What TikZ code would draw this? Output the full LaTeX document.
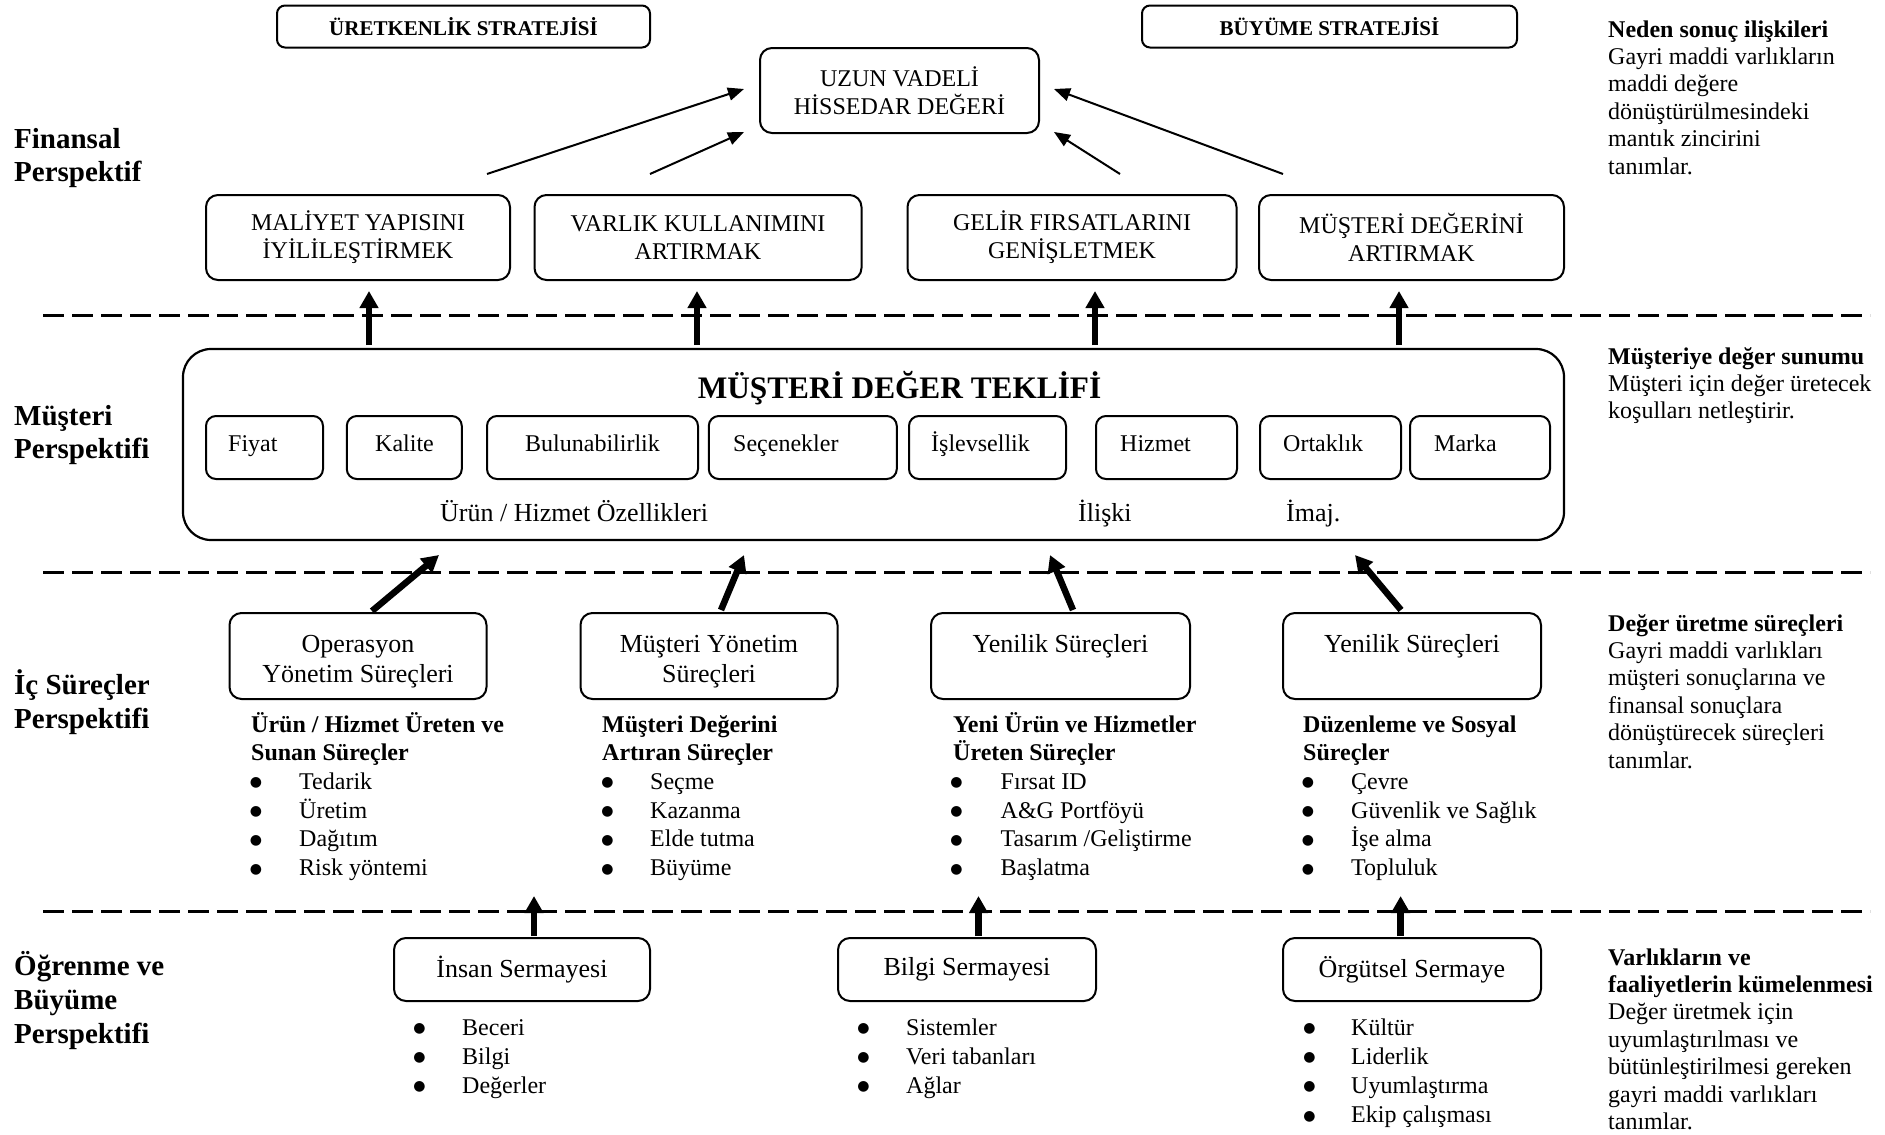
\documentclass[tikz,border=0pt]{standalone}
\usepackage{fontspec}
\setmainfont{Liberation Serif}
\newfontfamily\dotfont{DejaVu Sans}
\usetikzlibrary{arrows.meta,calc}

\newcommand\tstrat{\fontsize{21}{24}\selectfont}
\newcommand\tfour{\fontsize{24}{28}\selectfont}
\newcommand\tsix{\fontsize{26}{30}\selectfont}
\newcommand\tbig{\fontsize{29}{33}\selectfont}
\newcommand\ttitle{\fontsize{31.3}{35}\selectfont}
\newcommand\bigbullet{\raisebox{2.5pt}{\dotfont\fontsize{14}{14}\selectfont ●}}

\tikzset{
  rbox/.style={draw, line width=2pt, rounded corners=12pt, inner sep=0pt, align=center},
  stratbox/.style={rbox, rounded corners=8pt, font=\tstrat\bfseries},
  finbox/.style={rbox, font=\tfour},
  procbox/.style={rbox, minimum height=86pt},
  learnbox/.style={rbox, minimum height=63pt, font=\tsix},
  ibox/.style={rbox, rounded corners=10pt, minimum height=63pt},
  txt/.style={anchor=base west, inner sep=0pt, font=\tfour},
  btxt/.style={txt, font=\tfour\bfseries},
  ctxt/.style={anchor=base, inner sep=0pt, font=\tsix},
  dotnode/.style={anchor=base, inner sep=0pt},
  persp/.style={anchor=base west, inner sep=0pt, font=\tbig\bfseries},
  thinarrow/.style={line width=2pt, -{Triangle[length=16pt,width=13pt]}},
  bigarrow/.style={line width=6.5pt, -{Triangle[length=17pt,width=18pt]}},
  divider/.style={line width=3pt, dash pattern=on 21pt off 8pt}
}

% bulleted list: name, bullet x, text x, first baseline, line step, items
\newcommand\bulletlist[6]{%
  \foreach \t [count=\i from 0] in {#6} {%
    \node[dotnode] (#1d\i) at (#2, #4+#5*\i) {\bigbullet};
    \node[txt] (#1t\i) at (#3, #4+#5*\i) {\t};
  }%
}

\begin{document}
\begin{tikzpicture}[x=1pt,y=-1pt]
\useasboundingbox (0,0) rectangle (1885,1135);
\fill[white] (0,0) rectangle (1885,1135);

% ---------- perspective separators ----------
\draw[divider] (43,315) -- (1870,315);
\draw[divider] (43,572) -- (1870,572);
\draw[divider] (43,911) -- (1870,911);

% ---------- perspective names ----------
\node[persp] (pf1) at (14,148) {Finansal};
\node[persp] (pf2) at (14,181) {Perspektif};
\node[persp] (pm1) at (14,425) {Müşteri};
\node[persp] (pm2) at (14,458) {Perspektifi};
\node[persp] (pi1) at (14,694) {İç Süreçler};
\node[persp] (pi2) at (14,728) {Perspektifi};
\node[persp] (po1) at (14,975) {Öğrenme ve};
\node[persp] (po2) at (14,1009) {Büyüme};
\node[persp] (po3) at (14,1043) {Perspektifi};

% ---------- financial perspective ----------
\node[stratbox, minimum width=373pt, minimum height=42pt] (uret) at (463.5,26.5) {ÜRETKENLİK STRATEJİSİ};
\node[stratbox, minimum width=375pt, minimum height=42pt] (buyu) at (1329.5,26.5) {BÜYÜME STRATEJİSİ};

\node[finbox, minimum width=279pt, minimum height=85pt] (hisse) at (899.5,90.5) {UZUN VADELİ\\HİSSEDAR DEĞERİ};

\node[finbox, minimum width=304pt, minimum height=85pt] (fin1) at (358,237.5) {MALİYET YAPISINI\\İYİLİLEŞTİRMEK};
\node[finbox, minimum width=327pt, minimum height=85pt] (fin2) at (698,237.5) {VARLIK KULLANIMINI\\ARTIRMAK};
\node[finbox, minimum width=329pt, minimum height=85pt] (fin3) at (1072,237.5) {GELİR FIRSATLARINI\\GENİŞLETMEK};
\node[finbox, minimum width=305pt, minimum height=85pt] (fin4) at (1411.5,237.5) {MÜŞTERİ DEĞERİNİ\\ARTIRMAK};

\coordinate (h1s) at (487,174);  \coordinate (h1e) at (744,89);
\coordinate (h2s) at (650,174);  \coordinate (h2e) at (744,132);
\coordinate (h3s) at (1120,174); \coordinate (h3e) at (1054,132);
\coordinate (h4s) at (1283,174); \coordinate (h4e) at (1054,89);
\draw[thinarrow] (h1s) -- (h1e);
\draw[thinarrow] (h2s) -- (h2e);
\draw[thinarrow] (h3s) -- (h3e);
\draw[thinarrow] (h4s) -- (h4e);

% ---------- customer perspective ----------
\node[rbox, line width=2.2pt, rounded corners=28pt, minimum width=1381pt, minimum height=191pt] (cust) at (873.5,444.5) {};
\node[anchor=base, inner sep=0pt, font=\ttitle\bfseries] (custT) at (899.5,398) {MÜŞTERİ DEĞER TEKLİFİ};

\node[ibox, minimum width=117pt] (iFiyat) at (264.5,447.5) {};
\node[ibox, minimum width=115pt] (iKalite) at (404.3,447.5) {};
\node[ibox, minimum width=211pt] (iBulun) at (592.5,447.5) {};
\node[ibox, minimum width=188pt] (iSecen) at (802.8,447.5) {};
\node[ibox, minimum width=157pt] (iIslev) at (987.5,447.5) {};
\node[ibox, minimum width=141pt] (iHizm) at (1166.5,447.5) {};
\node[ibox, minimum width=141pt] (iOrtak) at (1330.5,447.5) {};
\node[ibox, minimum width=140pt] (iMarka) at (1480,447.5) {};

\node[txt] (tFiyat) at (228,451) {Fiyat};
\node[txt] (tKalite) at (375,451) {Kalite};
\node[txt] (tBulun) at (525,451) {Bulunabilirlik};
\node[txt] (tSecen) at (733,451) {Seçenekler};
\node[txt] (tIslev) at (931,451) {İşlevsellik};
\node[txt] (tHizm) at (1120,451) {Hizmet};
\node[txt] (tOrtak) at (1283,451) {Ortaklık};
\node[txt] (tMarka) at (1434,451) {Marka};

\node[txt, font=\tsix] (gUrun) at (440,521) {Ürün / Hizmet Özellikleri};
\node[txt, font=\tsix] (gIlis) at (1078,521) {İlişki};
\node[txt, font=\tsix] (gImaj) at (1286,521) {İmaj.};

\coordinate (u1s) at (369,345);  \coordinate (u1e) at (369,291);
\coordinate (u2s) at (697,345);  \coordinate (u2e) at (697,291);
\coordinate (u3s) at (1095,345); \coordinate (u3e) at (1095,291);
\coordinate (u4s) at (1399,345); \coordinate (u4e) at (1399,291);
\draw[bigarrow] (u1s) -- (u1e);
\draw[bigarrow] (u2s) -- (u2e);
\draw[bigarrow] (u3s) -- (u3e);
\draw[bigarrow] (u4s) -- (u4e);

% ---------- internal processes ----------
\node[procbox, minimum width=257pt] (proc1) at (358,656) {};
\node[procbox, minimum width=257pt] (proc2) at (709,656) {};
\node[procbox, minimum width=259pt] (proc3) at (1060.5,656) {};
\node[procbox, minimum width=258pt] (proc4) at (1412,656) {};

\node[ctxt] (p1a) at (358,652) {Operasyon};
\node[ctxt] (p1b) at (358,682) {Yönetim Süreçleri};
\node[ctxt] (p2a) at (709,652) {Müşteri Yönetim};
\node[ctxt] (p2b) at (709,682) {Süreçleri};
\node[ctxt] (p3a) at (1060.5,652) {Yenilik Süreçleri};
\node[ctxt] (p4a) at (1412,652) {Yenilik Süreçleri};

\coordinate (c1s) at (372,611);  \coordinate (c1e) at (439,555);
\coordinate (c2s) at (721,610);  \coordinate (c2e) at (744,555);
\coordinate (c3s) at (1073,610); \coordinate (c3e) at (1050,555);
\coordinate (c4s) at (1401,610); \coordinate (c4e) at (1355,555);
\draw[bigarrow] (c1s) -- (c1e);
\draw[bigarrow] (c2s) -- (c2e);
\draw[bigarrow] (c3s) -- (c3e);
\draw[bigarrow] (c4s) -- (c4e);

\node[btxt] (h1a) at (251,732) {Ürün / Hizmet Üreten ve};
\node[btxt] (h1b) at (251,760.7) {Sunan Süreçler};
\node[btxt] (h2a) at (602,732) {Müşteri Değerini};
\node[btxt] (h2b) at (602,760.7) {Artıran Süreçler};
\node[btxt] (h3a) at (953,732) {Yeni Ürün ve Hizmetler};
\node[btxt] (h3b) at (953,760.7) {Üreten Süreçler};
\node[btxt] (h4a) at (1303,732) {Düzenleme ve Sosyal};
\node[btxt] (h4b) at (1303,760.7) {Süreçler};

\bulletlist{ops}{256}{299}{789.4}{28.7}{Tedarik,Üretim,Dağıtım,Risk yöntemi}
\bulletlist{mus}{607.5}{650}{789.4}{28.7}{Seçme,Kazanma,Elde tutma,Büyüme}
\bulletlist{yen}{956.5}{1000.5}{789.4}{28.7}{Fırsat ID,A\&G Portföyü,Tasarım /Geliştirme,Başlatma}
\bulletlist{duz}{1308}{1351}{789.4}{28.7}{Çevre,Güvenlik ve Sağlık,İşe alma,Topluluk}

% ---------- learning and growth ----------
\node[learnbox, minimum width=256pt] (learn1) at (522,969.5) {İnsan Sermayesi};
\node[learnbox, minimum width=258pt] (learn2) at (967,969.5) {Bilgi Sermayesi};
\node[learnbox, minimum width=258pt] (learn3) at (1412,969.5) {Örgütsel Sermaye};

\coordinate (l1s) at (534,936);    \coordinate (l1e) at (534,896);
\coordinate (l2s) at (978.5,936);  \coordinate (l2e) at (978.5,896);
\coordinate (l3s) at (1400.6,936); \coordinate (l3e) at (1400.6,896);
\draw[bigarrow] (l1s) -- (l1e);
\draw[bigarrow] (l2s) -- (l2e);
\draw[bigarrow] (l3s) -- (l3e);

\bulletlist{ins}{419.5}{462}{1035}{29.2}{Beceri,Bilgi,Değerler}
\bulletlist{bil}{863.5}{906}{1035}{29.2}{Sistemler,Veri tabanları,Ağlar}
\bulletlist{org}{1309.5}{1351}{1035}{29.2}{Kültür,Liderlik,Uyumlaştırma,Ekip çalışması}

% ---------- explanations on the right ----------
\node[btxt] (ns0) at (1608,37) {Neden sonuç ilişkileri};
\foreach \t [count=\i] in {Gayri maddi varlıkların,maddi değere,dönüştürülmesindeki,mantık zincirini,tanımlar.}
  \node[txt] (ns\i) at (1608,37+27.4*\i) {\t};

\node[btxt] (ms0) at (1608,364) {Müşteriye değer sunumu};
\foreach \t [count=\i] in {Müşteri için değer üretecek,koşulları netleştirir.}
  \node[txt] (ms\i) at (1608,364+27.4*\i) {\t};

\node[btxt] (ds0) at (1608,631) {Değer üretme süreçleri};
\foreach \t [count=\i] in {Gayri maddi varlıkları,müşteri sonuçlarına ve,finansal sonuçlara,dönüştürecek süreçleri,tanımlar.}
  \node[txt] (ds\i) at (1608,631+27.4*\i) {\t};

\node[btxt] (vk0) at (1608,965) {Varlıkların ve};
\node[btxt] (vk1) at (1608,992.4) {faaliyetlerin kümelenmesi};
\foreach \t [count=\i from 2] in {Değer üretmek için,uyumlaştırılması ve,bütünleştirilmesi gereken,gayri maddi varlıkları,tanımlar.}
  \node[txt] (vk\i) at (1608,965+27.4*\i) {\t};

\end{tikzpicture}
\end{document}
